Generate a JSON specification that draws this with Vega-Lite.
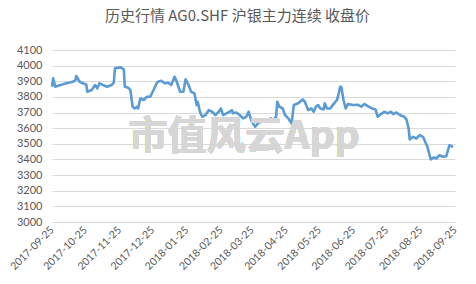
{
  "$schema": "https://vega.github.io/schema/vega-lite/v6.json",
  "autosize": "none",
  "width": 403,
  "height": 172,
  "padding": {"left": 52, "top": 50, "right": 21, "bottom": 62},
  "background": "white",
  "config": {"view": {"stroke": null}, "font": "Lato, Noto Sans CJK SC"},
  "title": {"text": "历史行情 AG0.SHF 沪银主力连续 收盘价", "font": "Noto Sans CJK SC", "fontSize": 15, "fontWeight": "normal", "color": "#595959", "anchor": "middle", "dx": -16, "offset": 20},
  "resolve": {"axis": {"x": "independent", "y": "independent"}},
  "data": {"values": [
    {"date": "2017-09-25", "close": 3865}, {"date": "2017-09-26", "close": 3919}, {"date": "2017-09-28", "close": 3865},
    {"date": "2017-10-02", "close": 3875}, {"date": "2017-10-08", "close": 3887}, {"date": "2017-10-13", "close": 3895},
    {"date": "2017-10-16", "close": 3903}, {"date": "2017-10-17", "close": 3933}, {"date": "2017-10-20", "close": 3897},
    {"date": "2017-10-23", "close": 3887}, {"date": "2017-10-26", "close": 3880}, {"date": "2017-10-27", "close": 3833},
    {"date": "2017-10-31", "close": 3844}, {"date": "2017-11-03", "close": 3876}, {"date": "2017-11-05", "close": 3855},
    {"date": "2017-11-07", "close": 3887}, {"date": "2017-11-10", "close": 3876}, {"date": "2017-11-14", "close": 3865},
    {"date": "2017-11-18", "close": 3876}, {"date": "2017-11-20", "close": 3891}, {"date": "2017-11-21", "close": 3983},
    {"date": "2017-11-26", "close": 3989}, {"date": "2017-11-29", "close": 3976}, {"date": "2017-11-30", "close": 3865},
    {"date": "2017-12-03", "close": 3859}, {"date": "2017-12-05", "close": 3844}, {"date": "2017-12-07", "close": 3737},
    {"date": "2017-12-09", "close": 3726}, {"date": "2017-12-11", "close": 3737}, {"date": "2017-12-12", "close": 3726},
    {"date": "2017-12-14", "close": 3790}, {"date": "2017-12-17", "close": 3780}, {"date": "2017-12-20", "close": 3801},
    {"date": "2017-12-23", "close": 3801}, {"date": "2017-12-26", "close": 3844}, {"date": "2017-12-29", "close": 3890},
    {"date": "2017-12-30", "close": 3897}, {"date": "2018-01-02", "close": 3903}, {"date": "2018-01-05", "close": 3887},
    {"date": "2018-01-08", "close": 3891}, {"date": "2018-01-11", "close": 3876}, {"date": "2018-01-14", "close": 3929},
    {"date": "2018-01-16", "close": 3897}, {"date": "2018-01-19", "close": 3833}, {"date": "2018-01-22", "close": 3833},
    {"date": "2018-01-24", "close": 3912}, {"date": "2018-01-26", "close": 3887}, {"date": "2018-01-29", "close": 3833},
    {"date": "2018-02-01", "close": 3822}, {"date": "2018-02-03", "close": 3748}, {"date": "2018-02-04", "close": 3769},
    {"date": "2018-02-06", "close": 3705}, {"date": "2018-02-08", "close": 3673}, {"date": "2018-02-11", "close": 3684},
    {"date": "2018-02-14", "close": 3716}, {"date": "2018-02-17", "close": 3705}, {"date": "2018-02-20", "close": 3684},
    {"date": "2018-02-23", "close": 3705}, {"date": "2018-02-25", "close": 3726}, {"date": "2018-02-27", "close": 3684},
    {"date": "2018-03-02", "close": 3695}, {"date": "2018-03-05", "close": 3705}, {"date": "2018-03-07", "close": 3716},
    {"date": "2018-03-08", "close": 3695}, {"date": "2018-03-11", "close": 3700}, {"date": "2018-03-14", "close": 3684},
    {"date": "2018-03-17", "close": 3663}, {"date": "2018-03-20", "close": 3673}, {"date": "2018-03-22", "close": 3705},
    {"date": "2018-03-25", "close": 3641}, {"date": "2018-03-28", "close": 3609}, {"date": "2018-03-31", "close": 3634},
    {"date": "2018-04-03", "close": 3641}, {"date": "2018-04-06", "close": 3645}, {"date": "2018-04-09", "close": 3641},
    {"date": "2018-04-11", "close": 3663}, {"date": "2018-04-13", "close": 3652}, {"date": "2018-04-16", "close": 3673},
    {"date": "2018-04-17", "close": 3769}, {"date": "2018-04-19", "close": 3737}, {"date": "2018-04-22", "close": 3726},
    {"date": "2018-04-24", "close": 3684}, {"date": "2018-04-27", "close": 3663}, {"date": "2018-04-30", "close": 3630},
    {"date": "2018-05-02", "close": 3748}, {"date": "2018-05-06", "close": 3759}, {"date": "2018-05-10", "close": 3784},
    {"date": "2018-05-12", "close": 3769}, {"date": "2018-05-15", "close": 3716}, {"date": "2018-05-18", "close": 3726},
    {"date": "2018-05-20", "close": 3705}, {"date": "2018-05-22", "close": 3737}, {"date": "2018-05-24", "close": 3748},
    {"date": "2018-05-26", "close": 3726}, {"date": "2018-05-29", "close": 3720}, {"date": "2018-05-30", "close": 3759},
    {"date": "2018-06-01", "close": 3726}, {"date": "2018-06-04", "close": 3726}, {"date": "2018-06-07", "close": 3754},
    {"date": "2018-06-10", "close": 3780}, {"date": "2018-06-11", "close": 3801}, {"date": "2018-06-13", "close": 3865},
    {"date": "2018-06-14", "close": 3865}, {"date": "2018-06-16", "close": 3780}, {"date": "2018-06-18", "close": 3726},
    {"date": "2018-06-20", "close": 3754}, {"date": "2018-06-25", "close": 3748}, {"date": "2018-06-29", "close": 3750},
    {"date": "2018-07-02", "close": 3737}, {"date": "2018-07-05", "close": 3754}, {"date": "2018-07-08", "close": 3741},
    {"date": "2018-07-12", "close": 3726}, {"date": "2018-07-15", "close": 3720}, {"date": "2018-07-17", "close": 3673},
    {"date": "2018-07-20", "close": 3690}, {"date": "2018-07-23", "close": 3705}, {"date": "2018-07-26", "close": 3695},
    {"date": "2018-07-29", "close": 3705}, {"date": "2018-07-31", "close": 3690}, {"date": "2018-08-03", "close": 3700},
    {"date": "2018-08-06", "close": 3684}, {"date": "2018-08-10", "close": 3673}, {"date": "2018-08-12", "close": 3656},
    {"date": "2018-08-14", "close": 3598}, {"date": "2018-08-15", "close": 3528}, {"date": "2018-08-18", "close": 3545},
    {"date": "2018-08-21", "close": 3534}, {"date": "2018-08-24", "close": 3556}, {"date": "2018-08-27", "close": 3545},
    {"date": "2018-08-29", "close": 3513}, {"date": "2018-08-31", "close": 3481}, {"date": "2018-09-02", "close": 3427},
    {"date": "2018-09-03", "close": 3400}, {"date": "2018-09-06", "close": 3413}, {"date": "2018-09-08", "close": 3406},
    {"date": "2018-09-11", "close": 3427}, {"date": "2018-09-14", "close": 3417}, {"date": "2018-09-17", "close": 3420},
    {"date": "2018-09-20", "close": 3491}, {"date": "2018-09-22", "close": 3485}, {"date": "2018-09-23", "close": 3477}
  ]},
  "layer": [
    {
      "mark": {"type": "line", "color": "#5b9bd5", "strokeWidth": 2.6, "strokeJoin": "round"},
      "encoding": {
        "x": {
          "field": "date", "type": "temporal",
          "scale": {"type": "utc", "domain": [{"year": 2017, "month": 9, "date": 25, "utc": true}, {"year": 2018, "month": 9, "date": 25, "utc": true}]},
          "axis": {
            "title": null,
            "labelExpr": "utcFormat(datum.value, '%Y-%m-%d')",
            "values": [
              {"year": 2017, "month": 9, "date": 25, "utc": true}, {"year": 2017, "month": 10, "date": 25, "utc": true},
              {"year": 2017, "month": 11, "date": 25, "utc": true}, {"year": 2017, "month": 12, "date": 25, "utc": true},
              {"year": 2018, "month": 1, "date": 25, "utc": true}, {"year": 2018, "month": 2, "date": 25, "utc": true},
              {"year": 2018, "month": 3, "date": 25, "utc": true}, {"year": 2018, "month": 4, "date": 25, "utc": true},
              {"year": 2018, "month": 5, "date": 25, "utc": true}, {"year": 2018, "month": 6, "date": 25, "utc": true},
              {"year": 2018, "month": 7, "date": 25, "utc": true}, {"year": 2018, "month": 8, "date": 25, "utc": true},
              {"year": 2018, "month": 9, "date": 25, "utc": true}
            ],
            "labelAngle": -45,
            "labelAlign": "right",
            "labelBaseline": "middle",
            "labelFontSize": 10.5,
            "labelColor": "#595959",
            "labelPadding": 6,
            "labelOverlap": false,
            "labelBound": false,
            "labelFlush": false,
            "grid": false,
            "ticks": false,
            "domain": true,
            "domainColor": "#d9d9d9",
            "domainWidth": 1
          }
        },
        "y": {
          "field": "close", "type": "quantitative",
          "scale": {"domain": [3000, 4100], "nice": false, "zero": false},
          "axis": {
            "title": null,
            "values": [3000, 3100, 3200, 3300, 3400, 3500, 3600, 3700, 3800, 3900, 4000, 4100],
            "format": "d",
            "labelFontSize": 11,
            "labelColor": "#595959",
            "labelPadding": 10,
            "labelOverlap": false,
            "domain": false,
            "ticks": false,
            "grid": true,
            "gridColor": "#d9d9d9",
            "gridWidth": 1
          }
        }
      }
    },
    {
      "mark": {"type": "text", "font": "Noto Sans CJK SC", "fontSize": 39, "fontWeight": "bold", "color": "#d6d6d6", "align": "center", "baseline": "middle"},
      "encoding": {
        "x": {"datum": {"year": 2018, "month": 3, "date": 18, "utc": true}, "type": "temporal", "axis": null},
        "y": {"datum": 3543, "type": "quantitative", "axis": null},
        "text": {"value": "市值风云App"}
      }
    }
  ]
}
